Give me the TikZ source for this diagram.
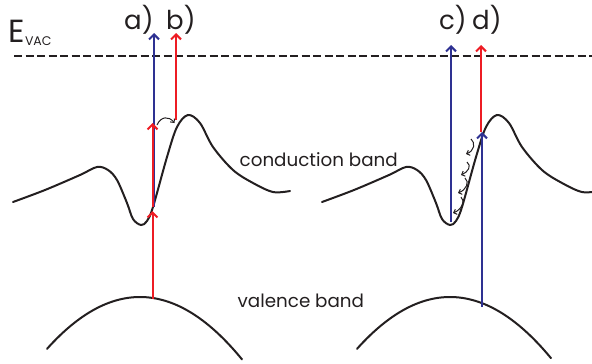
\documentclass[tikz,border=0pt]{standalone}
\usepackage{fontspec}
\setmainfont{Poppins}
\usetikzlibrary{arrows.meta}
\definecolor{ink}{RGB}{35,31,32}
\definecolor{eblue}{RGB}{46,49,146}
\definecolor{ered}{RGB}{237,28,36}
\newcommand\cbandpath{plot[smooth,tension=0.55] coordinates {(13,202) (45,190) (80,175) (97,167) (108,170) (117,180) (127,203) (133,219) (141,225) (147,221) (153,207) (167,157) (177,127) (188,115) (200,123) (213,147) (233,170) (253,183) (273,192) (290,191)}}
\tikzset{
  band/.style={draw=ink, line width=2pt, line cap=round},
  photon/.style={line width=2pt, -{Straight Barb[length=5pt,width=10pt,line width=2pt]}},
  hop/.style={draw=ink, line width=1pt, -{Straight Barb[length=2.8pt,width=5.5pt,line width=1pt]}},
  lbl/.style={anchor=base west, inner sep=0pt, text=ink},
}
\begin{document}
\begin{tikzpicture}[x=1pt,y=-1pt]
\useasboundingbox (0,0) rectangle (592,364);
\clip (0,0) rectangle (592,364);
% vacuum level
\coordinate (vacL) at (14,56);
\coordinate (vacR) at (592,56);
\draw[ink, line width=2.2pt, dash pattern=on 8pt off 3.5pt] (vacL) -- (vacR);
\node[lbl, font=\fontsize{32}{32}\selectfont] (E) at (8.5,42.5) {E};
\node[lbl, font=\fontsize{12.5}{12.5}\selectfont, anchor=base west] (vac) at ([xshift=-0.5pt,yshift=-3pt]E.base east) {VAC};
% bands
\draw[band] \cbandpath;
\begin{scope}[xshift=309pt]
\draw[band] \cbandpath;
\end{scope}
\draw[band] plot[domain=47:242, samples=60] (\x,{297+0.006*(\x-140)^2});
\draw[band] plot[domain=357:551, samples=60] (\x,{297+0.006*(\x-450)^2});
% band labels
\node[lbl, font=\fontsize{18.3}{18.3}\selectfont] (cb) at (239.5,166) {conduction band};
\node[lbl, font=\fontsize{18.3}{18.3}\selectfont] (vb) at (237.5,307) {valence band};
% process labels
\node[lbl, font=\fontsize{26}{26}\selectfont] (la) at (124,29) {a)};
\node[lbl, font=\fontsize{26}{26}\selectfont] (lb) at (166,29) {b)};
\node[lbl, font=\fontsize{26}{26}\selectfont] (lc) at (439,29) {c)};
\node[lbl, font=\fontsize{26}{26}\selectfont] (ld) at (472,29) {d)};
% a)
\coordinate (aB0) at (154,207); \coordinate (aB1) at (154,33);
\coordinate (aR0) at (152.5,299); \coordinate (aR1) at (152.5,211);
\coordinate (aR2) at (152.5,207); \coordinate (aR3) at (152.5,123);
\draw[photon, eblue] (aB0) -- (aB1);
\draw[photon, ered] (aR0) -- (aR1);
\draw[photon, ered] (aR2) -- (aR3);
% b)
\coordinate (bR0) at (176,120); \coordinate (bR1) at (176,33);
\draw[photon, ered] (bR0) -- (bR1);
\coordinate (h0) at (157,125); \coordinate (h1) at (174.5,123);
\draw[hop] (h0) .. controls (161,116) and (169,116) .. (h1);
% c)
\coordinate (cB0) at (451,222); \coordinate (cB1) at (451,45);
\draw[photon, eblue] (cB0) -- (cB1);
% d)
\coordinate (dR0) at (481,132); \coordinate (dR1) at (481,45);
\draw[photon, ered] (dR0) -- (dR1);
\coordinate (dB0) at (482,307); \coordinate (dB1) at (482,132);
\draw[photon, eblue] (dB0) -- (dB1);
% relaxation hops
\coordinate (r1a) at (471,139); \coordinate (r1b) at (466,154);
\coordinate (r2a) at (467,162); \coordinate (r2b) at (461,175);
\coordinate (r3a) at (465,178); \coordinate (r3b) at (458,193);
\coordinate (r4a) at (461,197); \coordinate (r4b) at (453,213);
\draw[hop] (r1a) .. controls (476,143) and (474,151) .. (r1b);
\draw[hop] (r2a) .. controls (472,166) and (468,172) .. (r2b);
\draw[hop] (r3a) .. controls (470,182) and (466,190) .. (r3b);
\draw[hop] (r4a) .. controls (466,201) and (461,210) .. (r4b);
\end{tikzpicture}
\end{document}
